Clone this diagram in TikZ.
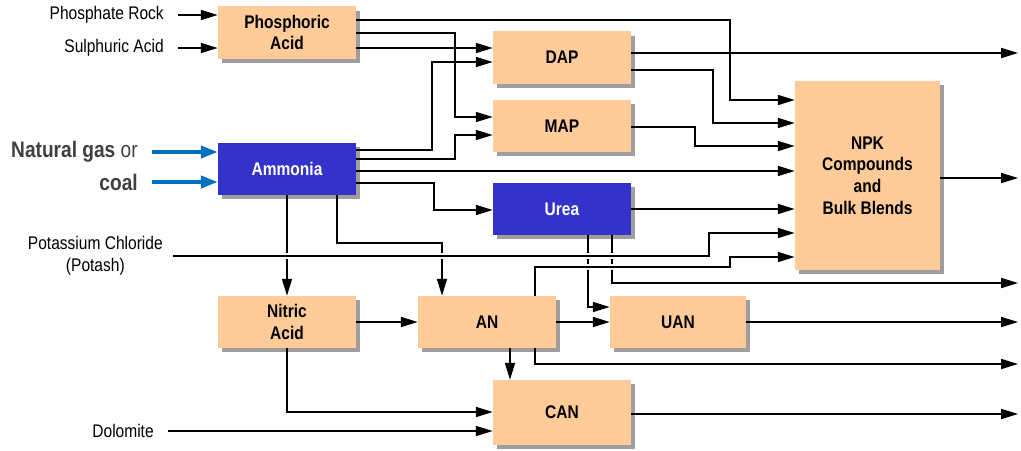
\documentclass[tikz,border=0pt]{standalone}
\usepackage{fontspec}
\setmainfont{Liberation Sans}[FakeStretch=0.85]
\usetikzlibrary{shadows,arrows.meta}
\definecolor{peach}{RGB}{255,204,153}
\definecolor{plantblue}{RGB}{51,51,204}
\definecolor{gasblue}{RGB}{0,112,192}
\definecolor{darktext}{RGB}{64,64,64}

\tikzset{
    unit/.style={fill=peach, minimum width=3.45cm, minimum height=1.3cm, inner sep=0pt,
        align=center, font=\fontsize{13}{15.5}\selectfont\bfseries,
        drop shadow={shadow xshift=0.1cm, shadow yshift=-0.1cm, fill=black!38, opacity=1}},
    blueunit/.style={unit, fill=plantblue, text=white},
    feed/.style={anchor=east, inner xsep=0.35cm, font=\fontsize{13}{15.5}\selectfont},
    flow/.style={line width=1.1pt, -{Triangle[length=4.2mm, width=2.5mm]}},
    gasflow/.style={line width=2.6pt, gasblue, -{Triangle[length=4.2mm, width=3mm]}},
    bridge/.style={preaction={draw=white, line width=4pt, -}}
}

\begin{document}
\begin{tikzpicture}[x=0.025cm, y=-0.025cm]
    \useasboundingbox (0,0) rectangle (1021,450);

    % plants
    \node[unit] (phos) at (287,32.5) {Phosphoric\\Acid};
    \node[blueunit] (ammonia) at (287,168.5) {Ammonia};
    \node[unit] (dap) at (562,57.5) {DAP};
    \node[unit] (map) at (562,126) {MAP};
    \node[blueunit] (urea) at (562,209) {Urea};
    \node[unit, minimum width=3.625cm, minimum height=4.725cm] (npk) at (867.5,175.5) {NPK\\Compounds\\and\\Bulk Blends};
    \node[unit] (nitric) at (287,322) {Nitric\\Acid};
    \node[unit] (an) at (487,322) {AN};
    \node[unit, minimum width=3.4cm] (uan) at (678,322) {UAN};
    \node[unit, minimum height=1.625cm] (can) at (562,412.5) {CAN};

    % raw materials
    \node[feed] (rock) at (178,15) {Phosphate Rock};
    \node[feed] (sulph) at (178,48) {Sulphuric Acid};
    \node[feed, text=darktext, font=\fontsize{16}{19}\selectfont] (gas) at (152,152) {\textbf{Natural gas} or};
    \node[feed, text=darktext, font=\fontsize{16}{19}\selectfont\bfseries] (coal) at (152,182) {coal};
    \node[feed, align=center, inner xsep=0.25cm] (potash) at (173,256) {Potassium Chloride\\(Potash)};
    \node[feed] (dolo) at (168,431) {Dolomite};

    % product outlets
    \coordinate (out1) at (1018,53);
    \coordinate (out2) at (1018,178);
    \coordinate (out3) at (1018,283);
    \coordinate (out4) at (1018,322);
    \coordinate (out5) at (1018,364);
    \coordinate (out6) at (1018,414);

    \draw[flow] (rock) -- (phos.west |- rock);
    \draw[flow] (sulph) -- (phos.west |- sulph);
    \draw[gasflow] (gas) -- (ammonia.west |- gas);
    \draw[gasflow] (coal) -- (ammonia.west |- coal);
    \draw[flow] (dolo) -- (can.west |- dolo);

    \draw[flow] (phos.east |- 0,20) -| (730,100) -- (npk.west |- 0,100);
    \draw[flow] (phos.east |- 0,33) -| (455,117) -- (map.west |- 0,117);
    \draw[flow] (phos.east |- 0,48) -- (dap.west |- 0,48);

    \draw[flow] (ammonia.east |- 0,150) -| (432,62) -- (dap.west |- 0,62);
    \draw[flow] (ammonia.east |- 0,159) -| (455,135) -- (map.west |- 0,135);
    \draw[flow] (ammonia.east |- 0,171) -- (npk.west |- 0,171);
    \draw[flow] (ammonia.east |- 0,183) -| (434,210) -- (urea.west |- 0,210);
    \draw[flow] (ammonia) -- (nitric);
    \draw[flow] (ammonia.south -| 337,0) |- (442,243) -- (an.north -| 442,0);

    \draw[flow] (dap.east |- 0,53) -- (out1);
    \draw[flow] (dap.east |- 0,70) -| (713,123) -- (npk.west |- 0,123);
    \draw[flow] (map.east |- 0,127) -| (695,146) -- (npk.west |- 0,146);
    \draw[flow] (npk.east |- out2) -- (out2);

    \draw[flow] (urea.east) -- (npk.west |- urea.east);
    \draw[flow] (urea.south -| 588,0) |- (uan.west |- 0,307);
    \draw[flow] (urea.south -| 612,0) |- (out3);

    \draw[flow] (nitric) -- (an);
    \draw[flow] (nitric) |- (can.west |- 0,412);
    \draw[flow] (an) -- (uan);
    \draw[flow] (an.south -| 510,0) -- (can.north -| 510,0);
    \draw[flow] (an.south -| 535,0) |- (out5);
    \draw[flow] (uan) -- (out4);
    \draw[flow] (can.east |- out6) -- (out6);

    % lines that pass over others
    \draw[flow, bridge] (potash) -| (709,233) -- (npk.west |- 0,233);
    \draw[flow, bridge] (an.north -| 535,0) |- (730,267) |- (npk.west |- 0,257);
\end{tikzpicture}
\end{document}
